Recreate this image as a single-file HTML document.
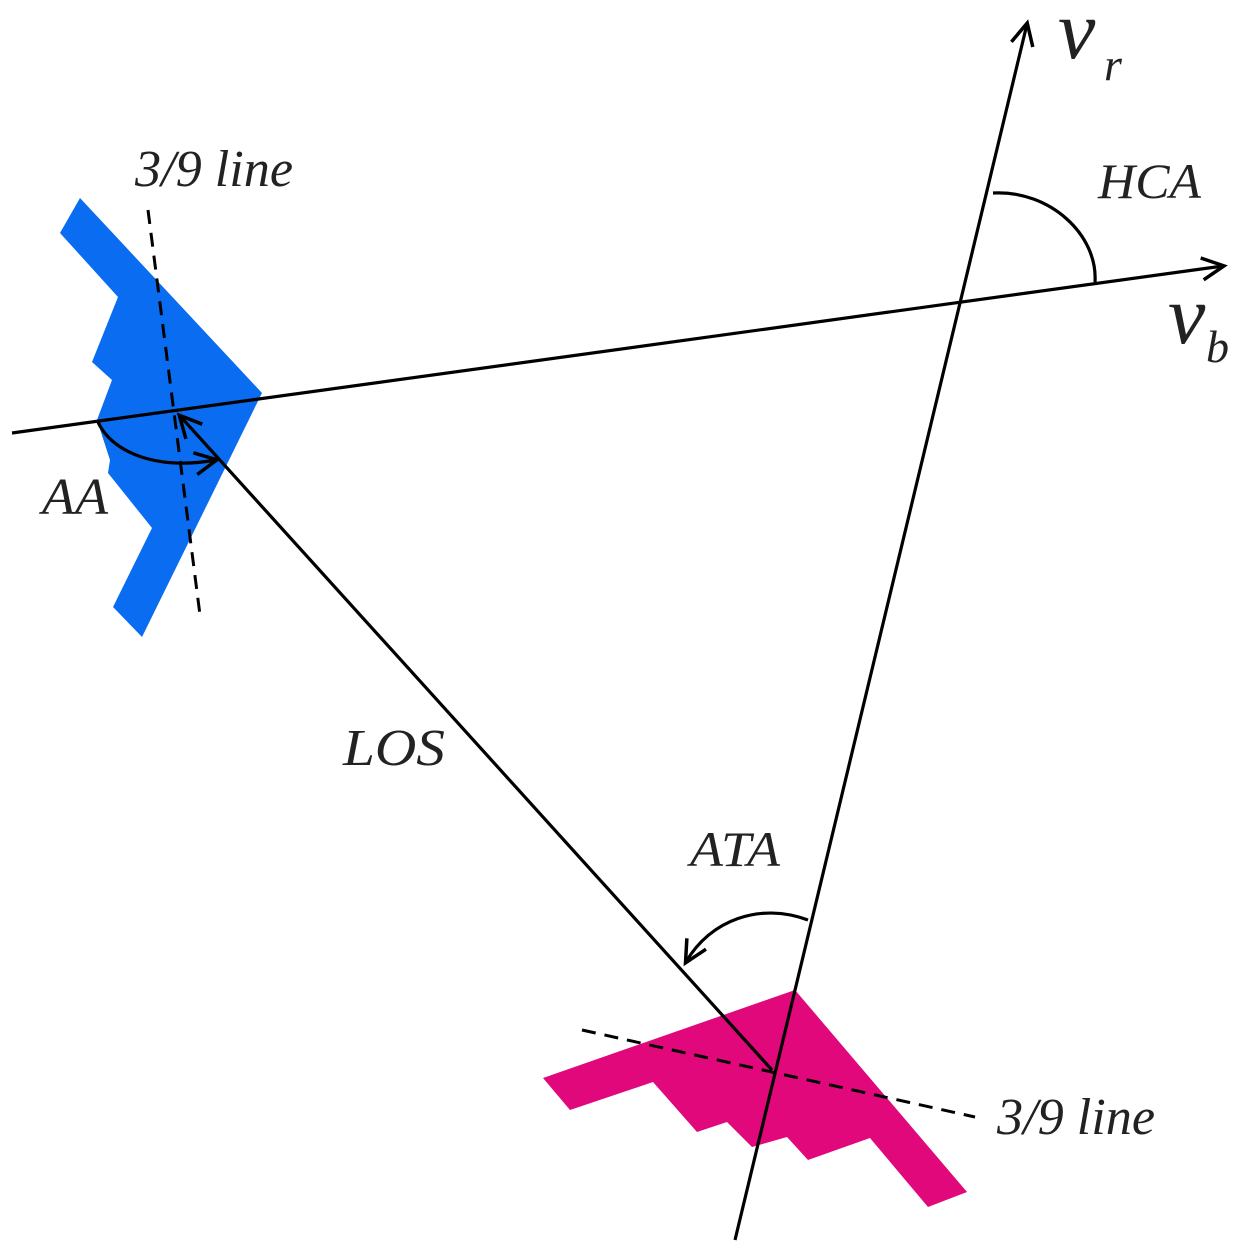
<!DOCTYPE html>
<html><head><meta charset="utf-8"><style>
html,body{margin:0;padding:0;background:#fff;}
svg{display:block}
text{font-family:"Liberation Serif",serif;font-style:italic;fill:#222}
</style></head><body>
<svg width="1247" height="1258" viewBox="0 0 1247 1258" xmlns="http://www.w3.org/2000/svg">
<defs>
<marker id="ah2" markerWidth="28" markerHeight="28" refX="23" refY="14" orient="auto" markerUnits="userSpaceOnUse" viewBox="0 0 28 28">
<path d="M2,3 L24,14 L2,25" fill="none" stroke="#000" stroke-width="3.5"/>
</marker>
</defs>
<polygon points="80,198 60,233 118,297 92,362 112,380 97,420 110,460 108,473 152,528 113,607 142,637 262,393" fill="#0a6cf0"/>
<polygon points="795,990 543,1078 570,1110 653,1082 697,1132 727,1122 752,1147 787,1137 808,1160 870,1138 928,1207 967,1192" fill="#e0087a"/>
<line x1="148" y1="210" x2="200" y2="615" stroke="#000" stroke-width="3" stroke-dasharray="14,9"/>
<line x1="582" y1="1030" x2="975" y2="1117" stroke="#000" stroke-width="3" stroke-dasharray="14,9"/>
<line x1="12" y1="433" x2="1223" y2="266" stroke="#000" stroke-width="3.2" marker-end="url(#ah2)"/>
<line x1="735" y1="1240" x2="1027" y2="24" stroke="#000" stroke-width="3.2" marker-end="url(#ah2)"/>
<line x1="772" y1="1070" x2="180" y2="416" stroke="#000" stroke-width="3.2" marker-end="url(#ah2)"/>
<path d="M993,193 C1050,190 1098,235 1095,282" fill="none" stroke="#000" stroke-width="3.2"/>
<path d="M97,420 C112,455 160,470 216,460" fill="none" stroke="#000" stroke-width="3.2" marker-end="url(#ah2)"/>
<path d="M808,920 C760,902 710,920 686,962" fill="none" stroke="#000" stroke-width="3.2" marker-end="url(#ah2)"/>
<text x="135" y="186" font-size="52" textLength="158" lengthAdjust="spacingAndGlyphs">3/9 line</text>
<text x="1058" y="58" font-size="84">v</text>
<text x="1104" y="80" font-size="46">r</text>
<text x="1098" y="198" font-size="50" textLength="103" lengthAdjust="spacingAndGlyphs">HCA</text>
<text x="1168" y="343" font-size="84">v</text>
<text x="1206" y="362" font-size="46">b</text>
<text x="42" y="514" font-size="52" textLength="66" lengthAdjust="spacingAndGlyphs">AA</text>
<text x="343" y="765" font-size="52" textLength="102" lengthAdjust="spacingAndGlyphs">LOS</text>
<text x="690" y="866" font-size="50" textLength="90" lengthAdjust="spacingAndGlyphs">ATA</text>
<text x="997" y="1134" font-size="52" textLength="158" lengthAdjust="spacingAndGlyphs">3/9 line</text>
</svg>
</body></html>
